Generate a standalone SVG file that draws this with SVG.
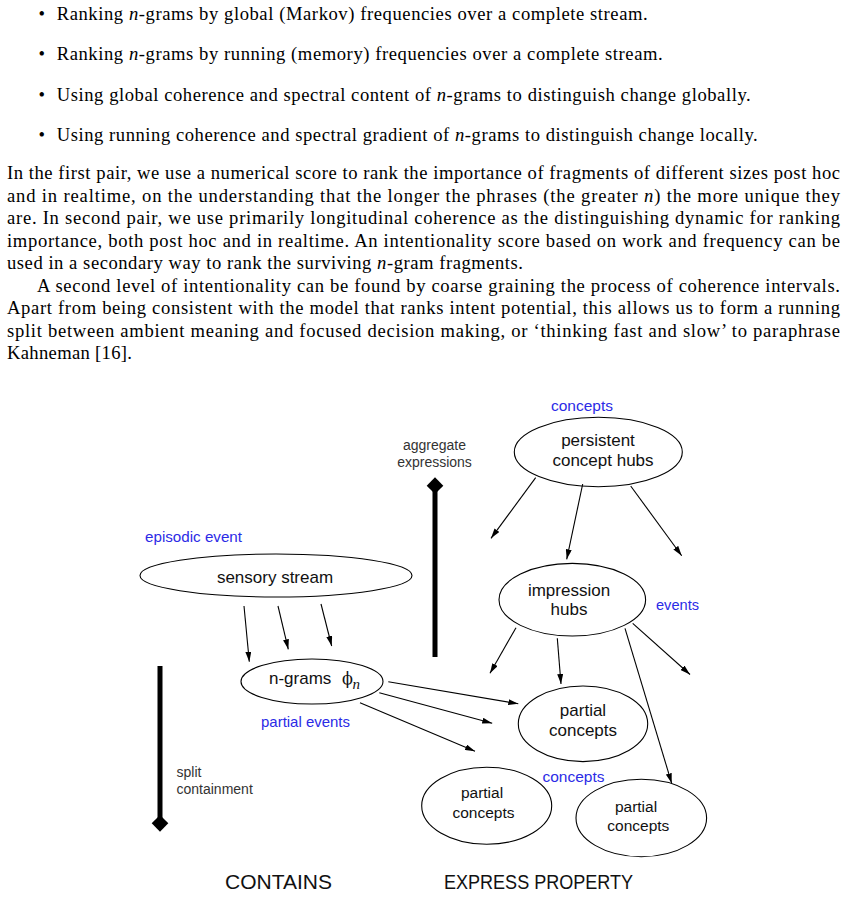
<svg xmlns="http://www.w3.org/2000/svg" width="846" height="897" viewBox="0 0 846 897">
<style>
.body{font-family:"Liberation Serif","Times New Roman",serif;font-size:18.6px;fill:#000}
.it{font-style:italic}
.node{fill:#fff;stroke:#000;stroke-width:1.1}
.lbl{font-family:"Liberation Sans",Arial,sans-serif;font-size:17px;fill:#111;text-anchor:middle}
.sm{font-size:15.5px}
.blue{font-family:"Liberation Sans",Arial,sans-serif;font-size:14.5px;fill:#2b2be6}
.note{font-family:"Liberation Sans",Arial,sans-serif;font-size:14px;fill:#333}
.big{font-family:"Liberation Sans",Arial,sans-serif;font-size:19.5px;fill:#111}
.conn line{stroke:#000;stroke-width:1.1;marker-end:url(#ah)}
.bar{stroke:#000;stroke-width:5}
</style>
<defs>
<marker id="ah" viewBox="0 0 10 6" markerWidth="10" markerHeight="6" refX="10" refY="3" orient="auto" markerUnits="userSpaceOnUse">
<path d="M0,0 L10,3 L0,6 z" fill="#000"/>
</marker>
</defs>

<g id="text">
<text class="body" x="38.5" y="20">•</text>
<text class="body" x="56.7" y="20" textLength="591" lengthAdjust="spacing">Ranking <tspan class="it">n</tspan>-grams by global (Markov) frequencies over a complete stream.</text>
<text class="body" x="38.5" y="60">•</text>
<text class="body" x="56.7" y="60" textLength="606" lengthAdjust="spacing">Ranking <tspan class="it">n</tspan>-grams by running (memory) frequencies over a complete stream.</text>
<text class="body" x="38.5" y="100.5">•</text>
<text class="body" x="56.7" y="100.5" textLength="694" lengthAdjust="spacing">Using global coherence and spectral content of <tspan class="it">n</tspan>-grams to distinguish change globally.</text>
<text class="body" x="38.5" y="141">•</text>
<text class="body" x="56.7" y="141" textLength="701" lengthAdjust="spacing">Using running coherence and spectral gradient of <tspan class="it">n</tspan>-grams to distinguish change locally.</text>

<text class="body" x="7" y="179" textLength="833" lengthAdjust="spacing">In the first pair, we use a numerical score to rank the importance of fragments of different sizes post hoc</text>
<text class="body" x="7" y="201.5" textLength="833" lengthAdjust="spacing">and in realtime, on the understanding that the longer the phrases (the greater <tspan class="it">n</tspan>) the more unique they</text>
<text class="body" x="7" y="224" textLength="833" lengthAdjust="spacing">are.  In second pair, we use primarily longitudinal coherence as the distinguishing dynamic for ranking</text>
<text class="body" x="7" y="246.5" textLength="833" lengthAdjust="spacing">importance, both post hoc and in realtime.  An intentionality score based on work and frequency can be</text>
<text class="body" x="7" y="269" textLength="516" lengthAdjust="spacing">used in a secondary way to rank the surviving <tspan class="it">n</tspan>-gram fragments.</text>
<text class="body" x="37" y="291.5" textLength="803" lengthAdjust="spacing">A second level of intentionality can be found by coarse graining the process of coherence intervals.</text>
<text class="body" x="7" y="314" textLength="833" lengthAdjust="spacing">Apart from being consistent with the model that ranks intent potential, this allows us to form a running</text>
<text class="body" x="7" y="336.5" textLength="833" lengthAdjust="spacing">split between ambient meaning and focused decision making, or ‘thinking fast and slow’ to paraphrase</text>
<text class="body" x="7" y="359" textLength="125" lengthAdjust="spacing">Kahneman [16].</text>
</g>

<g id="labels">
<text class="blue" x="145" y="542" textLength="97" lengthAdjust="spacingAndGlyphs">episodic event</text>
<text class="blue" x="261" y="727" textLength="89" lengthAdjust="spacingAndGlyphs">partial events</text>
<text class="blue" x="551" y="411" textLength="62" lengthAdjust="spacingAndGlyphs">concepts</text>
<text class="blue" x="656" y="610" textLength="43" lengthAdjust="spacingAndGlyphs">events</text>
<text class="blue" x="542.5" y="782" textLength="62" lengthAdjust="spacingAndGlyphs">concepts</text>
<text class="note" x="434.5" y="450" text-anchor="middle">aggregate</text>
<text class="note" x="434.5" y="466.5" text-anchor="middle">expressions</text>
<text class="note" x="176.5" y="776.5">split</text>
<text class="note" x="176.5" y="794">containment</text>
<text class="big" x="225" y="889" textLength="107" lengthAdjust="spacingAndGlyphs">CONTAINS</text>
<text class="big" x="444" y="889" textLength="189" lengthAdjust="spacingAndGlyphs">EXPRESS PROPERTY</text>
</g>

<g id="bars">
<line class="bar" x1="435" y1="657" x2="435" y2="488"/>
<polygon points="435,477.3 443.3,485.7 435,494 426.7,485.7" fill="#000"/>
<line class="bar" x1="160" y1="666" x2="160" y2="821"/>
<polygon points="160,815 168.3,823.3 160,831.7 151.7,823.3" fill="#000"/>
</g>

<g id="sensory-stream">
<ellipse class="node" cx="276" cy="575.5" rx="136" ry="21.5"/>
<text class="lbl" x="275" y="583">sensory stream</text>
</g>

<g id="n-grams">
<ellipse class="node" cx="312" cy="681.5" rx="71" ry="22.5"/>
<text class="lbl" x="269" y="684" style="text-anchor:start">n-grams</text>
<text x="342" y="684" style="font-family:'DejaVu Serif',serif;font-size:16px;fill:#111">ϕ</text>
<text x="352.5" y="689" style="font-family:'Liberation Serif',serif;font-style:italic;font-size:15px;fill:#111">n</text>
</g>

<g id="persistent-concept-hubs">
<ellipse class="node" cx="598.3" cy="452" rx="84" ry="34.7"/>
<text class="lbl" x="598" y="446">persistent</text>
<text class="lbl" x="603" y="466">concept hubs</text>
</g>

<g id="impression-hubs">
<ellipse class="node" cx="572.3" cy="599.7" rx="73.3" ry="36.3"/>
<text class="lbl" x="569" y="595.5">impression</text>
<text class="lbl" x="569" y="614.5">hubs</text>
</g>

<g id="partial-concepts-1">
<ellipse class="node" cx="583" cy="723.8" rx="64.7" ry="37.8"/>
<text class="lbl" x="583" y="716">partial</text>
<text class="lbl" x="583" y="736">concepts</text>
</g>

<g id="partial-concepts-2">
<ellipse class="node" cx="486.7" cy="805.8" rx="65" ry="38.5"/>
<text class="lbl sm" x="482" y="798">partial</text>
<text class="lbl sm" x="483.5" y="818">concepts</text>
</g>

<g id="partial-concepts-3">
<ellipse class="node" cx="641.3" cy="818" rx="65.3" ry="38.7"/>
<text class="lbl sm" x="636" y="811.5">partial</text>
<text class="lbl sm" x="638.3" y="831">concepts</text>
</g>

<g id="connectors" class="conn">
<line x1="244" y1="606" x2="249.3" y2="661.7"/>
<line x1="278" y1="606" x2="288.3" y2="649.3"/>
<line x1="321" y1="604" x2="331.7" y2="646"/>
<line x1="388.3" y1="681.7" x2="518.3" y2="703.8"/>
<line x1="379.3" y1="692.7" x2="492.2" y2="723.3"/>
<line x1="360" y1="702.7" x2="475" y2="751.2"/>
<line x1="535.7" y1="477.7" x2="491" y2="538.3"/>
<line x1="582.7" y1="484" x2="566.7" y2="559.3"/>
<line x1="630.7" y1="486" x2="681.7" y2="555.7"/>
<line x1="516" y1="627.7" x2="490" y2="673.3"/>
<line x1="557.3" y1="638.3" x2="561" y2="684"/>
<line x1="625" y1="628.3" x2="671.7" y2="783.3"/>
<line x1="632.7" y1="623.3" x2="690" y2="674.5"/>
</g>
</svg>
